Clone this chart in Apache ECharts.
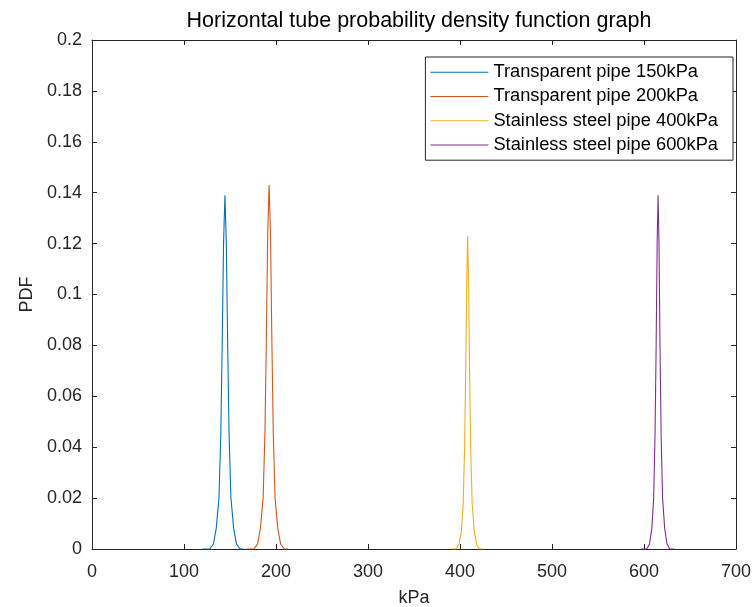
<!DOCTYPE html>
<html>
<head>
<meta charset="utf-8">
<script src="https://cdn.jsdelivr.net/npm/echarts@6/dist/echarts.min.js"></script>
<style>
    html, body { margin: 0; padding: 0; background: #fff; }
    #pdf-graph { width: 755px; height: 607px; }
</style>
</head>
<body>
<div id="pdf-graph"></div>
<script>
const SERIES_NAMES = [
    'Transparent pipe 150kPa',
    'Transparent pipe 200kPa',
    'Stainless steel pipe 400kPa',
    'Stainless steel pipe 600kPa'
];
const SERIES_COLORS = ['#0072BD', '#D95319', '#EDB120', '#7E2F8E'];

/* kPa / PDF points. */
const pipe150_x = [120, 128, 132, 135, 138, 140, 141.5, 143, 144.5, 146, 147.5, 149, 151, 154, 157, 161, 165];
const pipe150_y = [0, 0, 0.002, 0.008, 0.02, 0.045, 0.08, 0.12, 0.139, 0.12, 0.08, 0.045, 0.02, 0.008, 0.002, 0, 0];

const pipe200_x = [168, 176, 180, 183, 186, 188, 189.5, 191, 192.5, 194, 195.5, 197, 199, 202, 205, 209, 213];
const pipe200_y = [0, 0, 0.002, 0.008, 0.02, 0.046, 0.082, 0.124, 0.143, 0.124, 0.082, 0.046, 0.02, 0.008, 0.002, 0, 0];

const pipe400_x = [390, 396, 399, 401.5, 403.5, 405, 406.2, 407.3, 408.3, 409.3, 410.4, 411.6, 413.2, 415.5, 418, 421, 426];
const pipe400_y = [0, 0, 0.002, 0.007, 0.018, 0.04, 0.07, 0.105, 0.123, 0.105, 0.07, 0.04, 0.018, 0.007, 0.002, 0, 0];

const pipe600_x = [597, 603, 606, 608.5, 610.5, 612, 613.2, 614.3, 615.3, 616.3, 617.4, 618.6, 620.2, 622.5, 625, 628, 633];
const pipe600_y = [0, 0, 0.002, 0.008, 0.02, 0.045, 0.08, 0.12, 0.139, 0.12, 0.08, 0.045, 0.02, 0.008, 0.002, 0, 0];

const X_MIN = 0, X_MAX = 700, X_STEP = 100;
const Y_MIN = 0, Y_MAX = 0.2, Y_STEP = 0.02;

const FONT = 'Liberation Sans';
const TEXT_COLOR = '#262626';

function pairs(xs, ys) {
    return xs.map(function (x, i) { return [x, ys[i]]; });
}

let chart = echarts.init(document.getElementById('pdf-graph'));

let axisCommon = {
    axisLine: { show: true, onZero: false, lineStyle: { color: TEXT_COLOR, width: 1 } },
    axisTick: { show: true, inside: true, length: 5, lineStyle: { color: TEXT_COLOR } },
    splitLine: { show: false }
};

let seriesData = [
    pairs(pipe150_x, pipe150_y),
    pairs(pipe200_x, pipe200_y),
    pairs(pipe400_x, pipe400_y),
    pairs(pipe600_x, pipe600_y)
];

let option = {
    animation: false,
    color: SERIES_COLORS,
    textStyle: { fontFamily: FONT },
    title: {
        text: 'Horizontal tube probability density function graph',
        left: 414,
        textAlign: 'center',
        top: 5,
        textStyle: { fontFamily: FONT, fontSize: 21.5, fontWeight: 'normal', color: '#000' }
    },
    grid: { left: 92, right: 19, top: 40, bottom: 58, containLabel: false, outerBoundsMode: 'none' },
    legend: {
        orient: 'vertical',
        right: 22,
        top: 57,
        data: SERIES_NAMES.map(function (n) { return { name: n, icon: 'rect' }; }),
        itemWidth: 58,
        itemHeight: 1,
        itemGap: 6,
        padding: [6, 15, 6, 5],
        backgroundColor: '#fff',
        borderColor: TEXT_COLOR,
        borderWidth: 1,
        borderRadius: 0,
        textStyle: { fontFamily: FONT, fontSize: 18.3, color: '#000', lineHeight: 18.3 }
    },
    xAxis: [
        Object.assign({
            type: 'value',
            min: X_MIN, max: X_MAX, interval: X_STEP,
            name: 'kPa',
            nameLocation: 'middle',
            nameGap: 40,
            nameTextStyle: { fontFamily: FONT, fontSize: 18, color: TEXT_COLOR },
            axisLabel: { fontFamily: FONT, fontSize: 18, color: TEXT_COLOR, margin: 14 }
        }, axisCommon),
        Object.assign({
            type: 'value', position: 'top',
            min: X_MIN, max: X_MAX, interval: X_STEP,
            axisLabel: { show: false }
        }, axisCommon)
    ],
    yAxis: [
        Object.assign({
            type: 'value',
            min: Y_MIN, max: Y_MAX, interval: Y_STEP,
            name: 'PDF',
            nameLocation: 'middle',
            nameGap: 55,
            nameTextStyle: { fontFamily: FONT, fontSize: 18, color: TEXT_COLOR },
            axisLabel: { fontFamily: FONT, fontSize: 18, color: TEXT_COLOR, margin: 10 }
        }, axisCommon),
        Object.assign({
            type: 'value', position: 'right',
            min: Y_MIN, max: Y_MAX, interval: Y_STEP,
            axisLabel: { show: false }
        }, axisCommon)
    ],
    series: SERIES_NAMES.map(function (name, i) {
        return {
            name: name,
            type: 'line',
            symbol: 'none',
            smooth: false,
            lineStyle: { width: 1.1 },
            data: seriesData[i]
        };
    })
};
chart.setOption(option);

window.addEventListener('resize', function () {
    chart.resize();
});
</script>
</body>
</html>
